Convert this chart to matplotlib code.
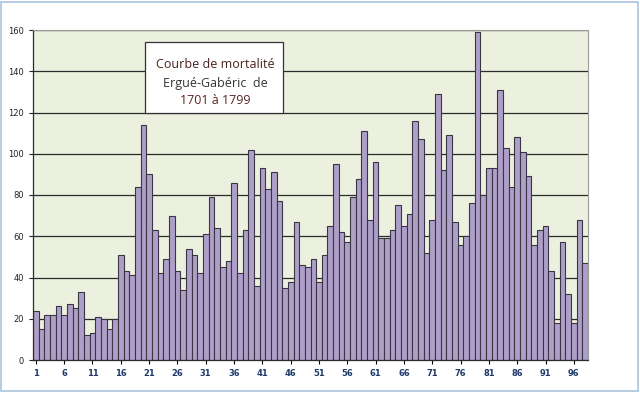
import matplotlib.pyplot as plt
from matplotlib.patches import Rectangle

# deces par annee, 1701 -> 1798 (98 categories on the axis)
years = list(range(1, 99))
deaths = [24, 15, 22, 22, 26, 22, 27, 25, 33, 12,
          13, 21, 20, 15, 20, 51, 43, 41, 84, 114,
          90, 63, 42, 49, 70, 43, 34, 54, 51, 42,
          61, 79, 64, 45, 48, 86, 42, 63, 102, 36,
          93, 83, 91, 77, 35, 38, 67, 46, 45, 49,
          38, 51, 65, 95, 62, 57, 79, 88, 111, 68,
          96, 59, 59, 63, 75, 65, 71, 116, 107, 52,
          68, 129, 92, 109, 67, 56, 60, 76, 159, 80,
          93, 93, 131, 103, 84, 108, 101, 89, 56, 63,
          65, 43, 18, 57, 32, 18, 68, 47]
xticks = list(range(1, 99, 5))
yticks = list(range(0, 161, 20))

fig = plt.figure(figsize=(6.4, 3.93), dpi=100)
ax = fig.add_axes([33/640, 1 - 360/393, 555/640, 330/393])
ax.set_facecolor('#EBF1DE')

ax.bar(years, deaths, width=1.0, color='#AE9FC9', edgecolor='#3A3542',
       linewidth=0.8, zorder=2)

ax.set_xlim(0.5, 98.5)
ax.set_ylim(0, 160)
ax.set_yticks(yticks)
ax.set_xticks(xticks)
ax.grid(axis='y', color='#2b2b2b', linewidth=0.9, zorder=1)
ax.tick_params(axis='y', labelsize=6, colors='#222222', length=3, width=0.8)
ax.tick_params(axis='x', labelsize=6, labelcolor='#1F3A6B', length=3, width=0.8)
for lbl in ax.get_xticklabels():
    lbl.set_fontweight('bold')
for s in ['top', 'right']:
    ax.spines[s].set_color('#9a9a9a')
    ax.spines[s].set_linewidth(0.8)
for s in ['left', 'bottom']:
    ax.spines[s].set_color('#2b2b2b')
    ax.spines[s].set_linewidth(0.9)

# titre dans un cadre blanc
fig.patches.append(Rectangle((145/640, 1 - 113/393), 138/640, 71/393,
                             transform=fig.transFigure, facecolor='white',
                             edgecolor='#333333', linewidth=0.9, zorder=5))
fig.text(215/640, 1 - 64/393, 'Courbe de mortalité', ha='center', va='center',
         fontsize=9, family='Open Sans', color='#4a2020', zorder=6)
fig.text(215/640, 1 - 83/393, 'Ergué-Gabéric  de', ha='center', va='center',
         fontsize=9, family='Open Sans', color='#333333', zorder=6)
fig.text(215/640, 1 - 101/393, '1701 à 1799', ha='center', va='center',
         fontsize=9, family='Open Sans', color='#5a2525', zorder=6)

# cadre exterieur
fig.patches.append(Rectangle((1/640, 2/393), 637/640, 389/393,
                             transform=fig.transFigure, fill=False,
                             edgecolor='#A9C4DE', linewidth=1.2))

fig.savefig('out.png', dpi=100)
